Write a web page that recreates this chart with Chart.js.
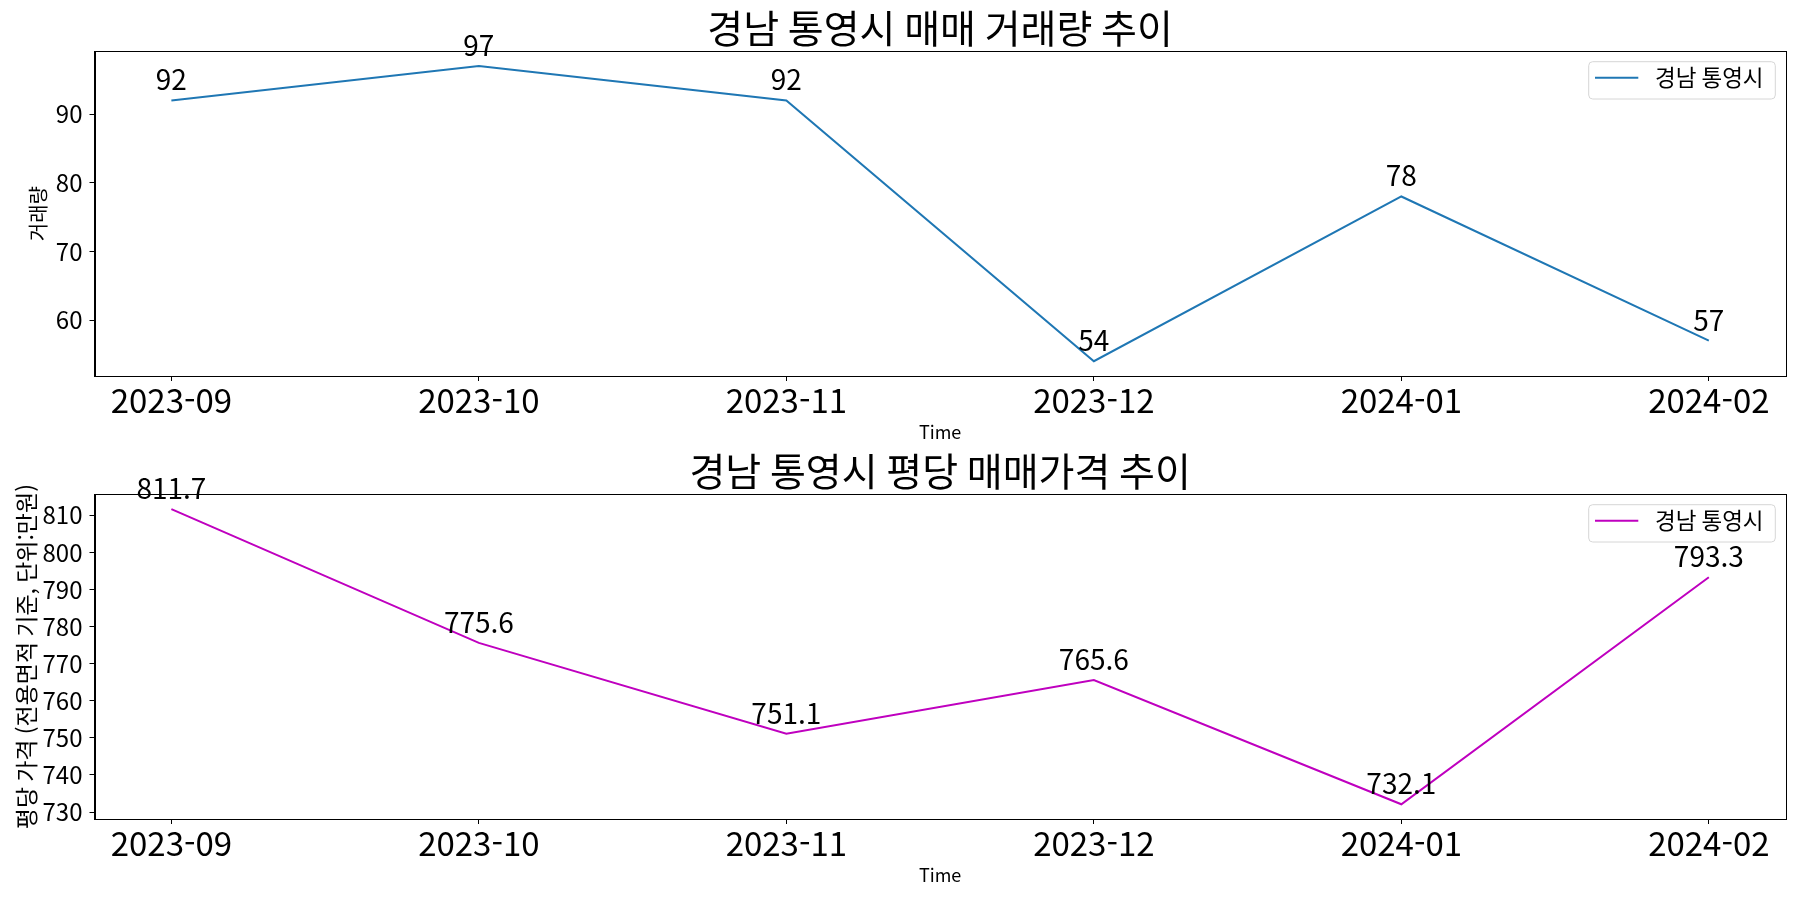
<!DOCTYPE html>
<html lang="ko">
<head>
<meta charset="utf-8">
<title>경남 통영시 매매 추이</title>
<script src="https://cdn.jsdelivr.net/npm/chart.js@4.4.1/dist/chart.umd.min.js"></script>
<style>
  html, body { margin: 0; padding: 0; background: #fff; }
  #contenedor { position: relative; width: 1800px; height: 900px; }
  canvas { position: absolute; left: 0; }
</style>
</head>
<body>
<div id="contenedor">
  <canvas id="grafica-volumen" width="1800" height="450" style="top:0"></canvas>
  <canvas id="grafica-precio" width="1800" height="450" style="top:443px"></canvas>
</div>
<script>
// Datos
const meses = ['2023-09', '2023-10', '2023-11', '2023-12', '2024-01', '2024-02'];
const volumen = [92, 97, 92, 54, 78, 57];
const precio = [811.7, 775.6, 751.1, 765.6, 732.1, 793.3];
const ticksVolumen = [60, 70, 80, 90];
const ticksPrecio = [730, 740, 750, 760, 770, 780, 790, 800, 810];
const nombreSerie = '경남 통영시';

const fuente = '"Noto Sans CJK KR", "Noto Sans", sans-serif';

// Etiquetas con el valor encima de cada punto
const etiquetasPlugin = {
  id: 'etiquetas',
  afterDatasetsDraw(chart, args, opts) {
    const ctx = chart.ctx;
    const meta = chart.getDatasetMeta(0);
    const datos = chart.data.datasets[0].data;
    ctx.save();
    ctx.font = '28px ' + fuente;
    ctx.fillStyle = '#000';
    ctx.textAlign = 'center';
    ctx.textBaseline = 'alphabetic';
    meta.data.forEach((p, i) => {
      ctx.fillText(datos[i].y.toFixed(opts.decimales), p.x, p.y - 10);
    });
    ctx.restore();
  }
};

// Leyenda dentro del área, arriba a la derecha
const leyendaPlugin = {
  id: 'leyenda',
  afterDraw(chart) {
    const { ctx, chartArea } = chart;
    const ds = chart.data.datasets[0];
    const w = 186.6, h = 37.3;
    const x = chartArea.right - 10.4 - w;
    const y = chartArea.top + 10.4;
    ctx.save();
    ctx.fillStyle = 'rgba(255,255,255,0.8)';
    ctx.strokeStyle = '#d6d6d6';
    ctx.lineWidth = 1;
    ctx.beginPath();
    ctx.roundRect(x, y, w, h, 4);
    ctx.fill();
    ctx.stroke();
    ctx.strokeStyle = ds.borderColor;
    ctx.lineWidth = 2;
    ctx.beginPath();
    ctx.moveTo(x + 6.3, y + 16);
    ctx.lineTo(x + 49.6, y + 16);
    ctx.stroke();
    ctx.fillStyle = '#000';
    ctx.font = '22.5px ' + fuente;
    ctx.textAlign = 'left';
    ctx.textBaseline = 'middle';
    ctx.fillText(ds.label, x + 66.3, y + 16);
    ctx.restore();
  }
};

// Marco negro alrededor del área
const marcoPlugin = {
  id: 'marco',
  afterDraw(chart) {
    const { ctx, chartArea } = chart;
    ctx.save();
    ctx.strokeStyle = '#000';
    ctx.lineWidth = 1;
    ctx.strokeRect(Math.round(chartArea.left) + 0.5, Math.round(chartArea.top) + 0.5,
      Math.round(chartArea.right - chartArea.left), Math.round(chartArea.bottom - chartArea.top));
    ctx.restore();
  }
};

function crearGrafica(idCanvas, cfg) {
  const ctx = document.getElementById(idCanvas).getContext('2d');
  const minimo = Math.min(...cfg.valores);
  const maximo = Math.max(...cfg.valores);
  const margen = (maximo - minimo) * 0.05;
  return new Chart(ctx, {
    type: 'line',
    data: {
      datasets: [{
        label: nombreSerie,
        data: cfg.valores.map((v, i) => ({ x: i, y: v })),
        borderColor: cfg.color,
        borderWidth: 2,
        pointRadius: 0,
        tension: 0,
        fill: false
      }]
    },
    options: {
      responsive: false,
      animation: false,
      layout: { padding: { left: 0, right: 14.3, top: 0, bottom: 0 } },
      plugins: {
        legend: { display: false },
        tooltip: { enabled: false },
        title: {
          display: true,
          text: cfg.titulo,
          fullSize: false,
          color: '#000',
          font: { family: fuente, size: 39, weight: 'normal', lineHeight: 1.1 },
          padding: { top: 7, bottom: 1.4 }
        },
        etiquetas: { decimales: cfg.decimales }
      },
      scales: {
        x: {
          type: 'linear',
          min: -0.25,
          max: meses.length - 0.75,
          afterBuildTicks: s => { s.ticks = meses.map((m, i) => ({ value: i })); },
          afterFit: s => { s.height = 74; },
          ticks: {
            callback: v => meses[v],
            color: '#000',
            font: { family: fuente, size: 33 },
            padding: 0,
            maxRotation: 0,
            autoSkip: false
          },
          grid: { drawOnChartArea: false, drawTicks: true, tickLength: 5, color: '#000' },
          border: { display: true, color: '#000' },
          title: {
            display: true,
            text: 'Time',
            color: '#000',
            font: { family: fuente, size: 18 },
            padding: { top: 0, bottom: 7.5 }
          }
        },
        y: {
          min: minimo - margen,
          max: maximo + margen,
          afterBuildTicks: s => { s.ticks = cfg.ticks.map(v => ({ value: v })); },
          afterFit: s => { s.width = 94.5; },
          ticks: {
            color: '#000',
            font: { family: fuente, size: 24 },
            padding: 7
          },
          grid: { drawOnChartArea: false, drawTicks: true, tickLength: 5, color: '#000' },
          border: { display: true, color: '#000' },
          title: {
            display: true,
            text: cfg.tituloY,
            color: '#000',
            font: { family: fuente, size: cfg.tamY },
            padding: { top: cfg.padY, bottom: 0 }
          }
        }
      }
    },
    plugins: [etiquetasPlugin, leyendaPlugin, marcoPlugin]
  });
}

crearGrafica('grafica-volumen', {
  titulo: '경남 통영시 매매 거래량 추이',
  tituloY: '거래량',
  valores: volumen,
  ticks: ticksVolumen,
  color: '#1f77b4',
  decimales: 0,
  tamY: 20,
  padY: 26.9
});

crearGrafica('grafica-precio', {
  titulo: '경남 통영시 평당 매매가격 추이',
  tituloY: '평당 가격 (전용면적 기준, 단위:만원)',
  valores: precio,
  ticks: ticksPrecio,
  color: '#bf00bf',
  decimales: 1,
  tamY: 23,
  padY: 12
});
</script>
</body>
</html>
